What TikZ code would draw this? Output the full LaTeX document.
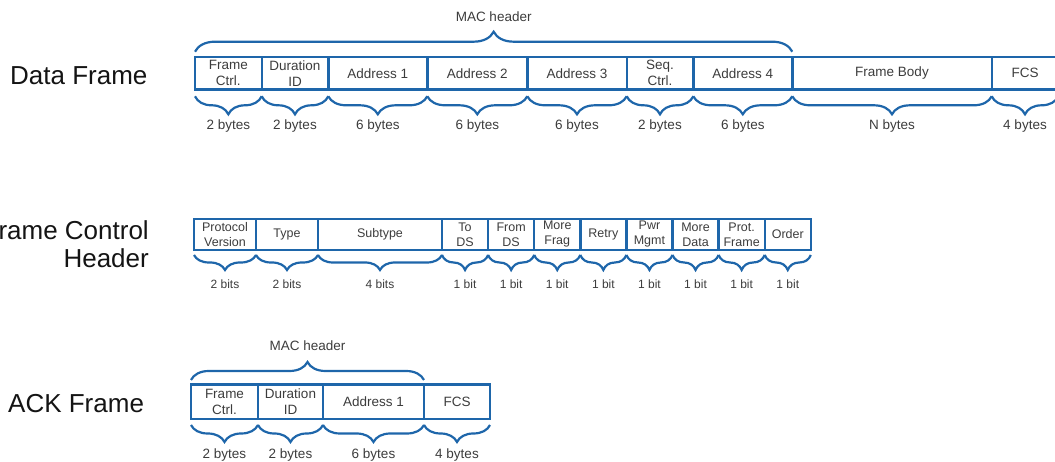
\documentclass[tikz,border=0pt]{standalone}
\usepackage{fontspec}
\setmainfont{Liberation Sans}
\usetikzlibrary{decorations.pathreplacing}
\definecolor{fblue}{RGB}{30,102,170}
\definecolor{ftext}{RGB}{60,60,60}
\definecolor{btext}{RGB}{20,20,20}
\tikzset{
  fbox/.style={draw=fblue, line width=2.4pt, rectangle, inner sep=0pt, outer sep=0pt,
     align=center, text=ftext},
  dfbox/.style={fbox, minimum height=32.5pt, font=\fontsize{13.5}{16}\selectfont},
  ackbox/.style={fbox, minimum height=34.5pt, font=\fontsize{13.5}{16}\selectfont},
  fcbox/.style={fbox, minimum height=31pt, font=\fontsize{12.5}{15}\selectfont},
  bracedown/.style={decorate, decoration={brace, amplitude=#1, mirror}, draw=fblue, line width=2.2pt},
  braceup/.style={decorate, decoration={brace, amplitude=#1}, draw=fblue, line width=2.2pt},
  lbl/.style={text=ftext, inner sep=0pt, font=\fontsize{13.5}{16}\selectfont},
  slbl/.style={text=ftext, inner sep=0pt, font=\fontsize{12}{14}\selectfont},
  big/.style={text=btext, inner sep=0pt, font=\fontsize{26}{28}\selectfont},
}
\begin{document}
\begin{tikzpicture}[x=1pt,y=1pt]
\useasboundingbox (0,0) rectangle (1055,462);

% ---------- Data Frame ----------
\node[big, anchor=west] (dftitle) at (10,386) {Data Frame};
\foreach \n/\a/\b/\t/\s in {
  1/195/261.7/{Frame\\Ctrl.}/2 bytes,
  2/261.7/328.3/{Duration\\ID}/2 bytes,
  3/328.3/427.3/{Address 1}/6 bytes,
  4/427.3/527.3/{Address 2}/6 bytes,
  5/527.3/626.7/{Address 3}/6 bytes,
  6/626.7/693.3/{Seq.\\Ctrl.}/2 bytes,
  7/693.3/792.3/{Address 4}/6 bytes,
  8/792.3/991.7/{Frame Body}/N bytes,
  9/991.7/1058.3/{FCS}/4 bytes}
{
  \pgfmathsetmacro\w{\b-\a}
  \node[dfbox, minimum width=\w pt] (df\n) at ({(\a+\b)/2},388.75) {\t};
  \draw[bracedown=18pt] ([yshift=-6.8pt]df\n.south west) -- ([yshift=-6.8pt]df\n.south east)
     node[lbl, midway, yshift=-29.3pt] (dfl\n) {\s};
}
\draw[braceup=20pt] ([yshift=5.3pt]df1.north west) -- ([yshift=5.3pt]df7.north east)
   node[lbl, midway, yshift=35.2pt] (dfmac) {MAC header};

% ---------- Frame Control Header ----------
\node[big, anchor=east, align=right] (fctitle) at (149,218) {Frame Control\\Header};
\foreach \n/\a/\b/\t/\s in {
  1/194/256/{Protocol\\Version}/2 bits,
  2/256/318/{Type}/2 bits,
  3/318/442/{Subtype}/4 bits,
  4/442/488.1/{To\\DS}/1 bit,
  5/488.1/534.2/{From\\DS}/1 bit,
  6/534.2/580.3/{More\\Frag}/1 bit,
  7/580.3/626.4/{Retry}/1 bit,
  8/626.4/672.5/{Pwr\\Mgmt}/1 bit,
  9/672.5/718.6/{More\\Data}/1 bit,
  10/718.6/764.7/{Prot.\\Frame}/1 bit,
  11/764.7/810.8/{Order}/1 bit}
{
  \pgfmathsetmacro\w{\b-\a}
  \node[fcbox, minimum width=\w pt] (fc\n) at ({(\a+\b)/2},227.5) {\t};
  \draw[bracedown=15pt] ([yshift=-5pt]fc\n.south west) -- ([yshift=-5pt]fc\n.south east)
     node[slbl, midway, yshift=-29pt] (fcl\n) {\s};
}

% ---------- ACK Frame ----------
\node[big, anchor=west] (acktitle) at (8,58) {ACK Frame};
\foreach \n/\a/\b/\t/\s in {
  1/191/258/{Frame\\Ctrl.}/2 bytes,
  2/258/323/{Duration\\ID}/2 bytes,
  3/323/424/{Address 1}/6 bytes,
  4/424/490/{FCS}/4 bytes}
{
  \pgfmathsetmacro\w{\b-\a}
  \node[ackbox, minimum width=\w pt] (ack\n) at ({(\a+\b)/2},60.25) {\t};
  \draw[bracedown=17pt] ([yshift=-6pt]ack\n.south west) -- ([yshift=-6pt]ack\n.south east)
     node[lbl, midway, yshift=-30pt] (ackl\n) {\s};
}
\draw[braceup=18pt] ([yshift=4.5pt]ack1.north west) -- ([yshift=4.5pt]ack3.north east)
   node[lbl, midway, yshift=34pt] (ackmac) {MAC header};
\end{tikzpicture}
\end{document}
